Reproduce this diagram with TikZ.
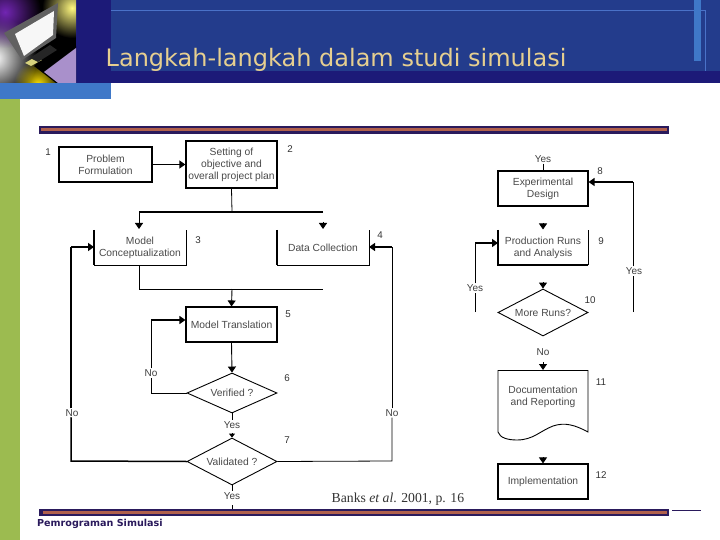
\documentclass[tikz,border=0pt]{standalone}
\usepackage{fontspec}
\setmainfont{Liberation Sans}
\newfontfamily\titlefont{DejaVu Sans}
\newfontfamily\citefont{Liberation Serif}
\usetikzlibrary{arrows.meta,shapes.geometric,fadings}
\tikzfading[name=glowfade,inner color=transparent!0,outer color=transparent!100]
\definecolor{hdblue}{HTML}{233C8C}
\definecolor{hdnavy}{HTML}{1C1A78}
\definecolor{hdlight}{HTML}{3F78C8}
\definecolor{hdline}{HTML}{4A72C8}
\definecolor{sidegreen}{HTML}{9CBB50}
\definecolor{barbrown}{HTML}{B0604C}
\definecolor{bardark}{HTML}{2A1A5C}
\definecolor{titletan}{HTML}{E6CF90}
\definecolor{txtgray}{HTML}{4A4A4A}
\tikzset{
  x=1pt,y=-1pt,
  lbl/.style={font=\fontsize{10.3}{12}\selectfont,text=txtgray,align=center,inner sep=0pt},
  num/.style={font=\fontsize{9.8}{11}\selectfont,text=black!80,inner sep=0pt},
  yn/.style={font=\fontsize{10}{11}\selectfont,text=black!75,inner sep=1pt,fill=white},
  boxed/.style={lbl,draw=black,line width=1.1pt,minimum width=#1},
  boxed/.default=91pt,
  plain/.style={lbl},
  thin line/.style={draw=black,line width=0.8pt},
  thick line/.style={draw=black,line width=1.5pt},
  head/.style={-{Triangle[length=6pt,width=8pt]},draw=black,line width=0.9pt},
  decide/.style={diamond,aspect=1.9,draw=black,line width=0.9pt,lbl,inner sep=0pt,minimum width=90pt,minimum height=#1},
  decide/.default=40pt,
}
\begin{document}
\begin{tikzpicture}
\useasboundingbox (0,0) rectangle (720,540);
\fill[white] (0,0) rectangle (720,540);
% header
\fill[hdblue] (111,0) rectangle (720,71);
\fill[hdnavy] (76,0) rectangle (111,83);
\fill[hdnavy] (76,71) rectangle (720,83);
\draw[hdline,line width=0.8pt] (111,10.5) -- (705.5,10.5) -- (705.5,71);
\fill[hdlight] (694,0) rectangle (701,61);
\fill[hdlight] (0,83) rectangle (111,99);
\fill[sidegreen] (0,99) rectangle (20,540);
% picture in header
\begin{scope}
\clip (0,0) rectangle (76,83);
\fill[black] (0,0) rectangle (76,83);
\fill[white,path fading=glowfade] (-5,58) circle (42);
\fill[violet!70!blue!85!white,path fading=glowfade] (5,12) circle (36);
\fill[yellow!50!white,path fading=glowfade] (72,8) circle (30);
\fill[yellow!85!orange,path fading=glowfade] (38,84) circle (24);
\fill[black] (34,66) -- (53,48) -- (76,46) -- (76,83) -- (56,83) -- cycle;
\fill[black!30!yellow!60!white] (25,63) -- (37,56) -- (42,60) -- (31,66) -- cycle;
\fill[black!85] (30,58) -- (50,45) -- (57,50) -- (38,62) -- cycle;
\fill[black!62] (4,33) -- (58,3) -- (56,38) -- (22,60) -- cycle;
\fill[black!3] (15,34) -- (54,11) -- (53,35) -- (24,56) -- cycle;
\fill[hdlight!45!violet!55!white] (44,72) -- (76,48) -- (76,83) -- (58,83) -- cycle;
\end{scope}
\node[anchor=base west,inner sep=0pt,text=titletan,font=\titlefont\fontsize{24}{27}\selectfont] (title) at (105.5,66.5) {Langkah-langkah dalam studi simulasi};
% bars
\fill[bardark] (39,126) rectangle (669,134);
\fill[barbrown] (41,128.5) rectangle (667,131.5);
\fill[bardark] (39,509) rectangle (669,516);
\fill[barbrown] (43,510.7) rectangle (667,514.3);
\fill[bardark] (672,510) rectangle (701,511);
\node[anchor=base west,inner sep=0pt,text=bardark,font=\titlefont\bfseries\fontsize{9.6}{11}\selectfont] (foot) at (37,526) {Pemrograman Simulasi};
% left chart nodes
\node[boxed=93pt,minimum height=35pt] (n1) at (105.5,164.5) {Problem\\Formulation};
\node[boxed,minimum height=47pt,line width=1.3pt] (n2) at (231.5,164.5) {Setting of\\objective and\\overall project plan};
\node[plain] (n3) at (140,248) {Model\\Conceptualization};
\node[plain] (n4) at (323,248) {Data Collection};
\node[boxed,minimum height=35pt] (n5) at (231.5,324.5) {Model Translation};
\node[decide] (n6) at (232,393) {Verified ?};
\node[decide=47pt] (n7) at (232,461.5) {Validated ?};
\coordinate (b3nw) at (94,230); \coordinate (b3sw) at (94,265); \coordinate (b3se) at (186,265); \coordinate (b3ne) at (186,230);
\coordinate (b4nw) at (277,230); \coordinate (b4sw) at (277,265); \coordinate (b4se) at (369,265); \coordinate (b4ne) at (369,230);
\draw[thick line] (b3nw) -- (b3sw);
\draw[thin line] (b3sw) -- (b3se) -- (b3ne);
\draw[thick line] (b4nw) -- (b4sw);
\draw[thin line] (b4sw) -- (b4se) -- (b4ne);
\coordinate (split) at (232,212);
\coordinate (splitL) at (139,212);
\coordinate (splitR) at (323,212);
\coordinate (mergeL) at (139,289);
\coordinate (merge) at (232,289);
\coordinate (mergeR) at (323,289);
\draw[thick line,line width=1.3pt,-{Triangle[length=6pt,width=8pt]}] (n1.east) -- (n2.west);
\draw[thin line] (n2.south) -- (split);
\draw[thick line,line width=1.3pt] (splitR) -- (splitL);
\draw[head] (splitL) -- (139,229);
\coordinate (h4) at (323,222);
\draw[head] (h4) -- (323,229);
\draw[thin line] (139,265) -- (mergeL) -- (mergeR);
\draw[head] (merge) -- (n5.north);
% no loops
\coordinate (v1) at (151,393);
\coordinate (v2) at (151,320);
\node[yn] (no6) at (151,373) {No};
\draw[thin line] (n6.west) -- (v1) -- (no6.south);
\draw[thin line] (no6.north) -- (v2);
\draw[line width=1.3pt,-{Triangle[length=6pt,width=8pt]}] (v2) -- (n5.west |- v2);
\draw[head] (n5.south) -- (n6.north);
\coordinate (a1) at (71,461);
\coordinate (a2) at (71,247);
\node[yn] (no7a) at (72,413) {No};
\draw[thick line,line cap=round] (n7.west) -- (a1) -- (no7a.south -| a1);
\draw[thick line] (no7a.north -| a1) -- (a2);
\draw[thick line,-{Triangle[length=6pt,width=8pt]}] (a2) -- (b3nw |- a2);
\coordinate (c1) at (392,461);
\coordinate (c2) at (392,247);
\node[yn] (no7b) at (392,413) {No};
\draw[thin line] (n7.east) -- (c1) -- (no7b.south);
\draw[thin line] (no7b.north) -- (c2);
\draw[thick line,line width=1.1pt,-{Triangle[length=6pt,width=8pt]}] (c2) -- (b4se |- c2);
\node[yn] (y6) at (232,425) {Yes};
\draw[thin line] (n6.south) -- (y6.north);
\coordinate (h7) at (232,433);
\draw[-{Triangle[length=4pt,width=6pt]},line width=0.9pt] (h7) -- (n7.north);
\node[yn] (y7) at (232,496) {Yes};
\draw[thin line] (n7.south) -- (y7.north);
\coordinate (t7) at (232,505);
\draw[thin line] (t7) -- (232,509);
\node[anchor=base west,inner sep=0pt,font=\citefont\fontsize{13.7}{16}\selectfont,text=black!80] (cite) at (331.5,502) {Banks \textit{et al}. 2001, p. 16};
% right chart
\node[yn] (y8) at (543,159) {Yes};
\node[boxed=90pt,minimum height=35pt] (n8) at (543,188.5) {Experimental\\Design};
\draw[thin line] (y8.south) -- (n8.north);
\node[plain] (n9) at (543,248) {Production Runs\\and Analysis};
\coordinate (b9nw) at (498,230); \coordinate (b9sw) at (498,265); \coordinate (b9se) at (588,265); \coordinate (b9ne) at (588,230);
\draw[thick line] (b9nw) -- (b9sw) -- (b9se);
\draw[thin line] (b9se) -- (b9ne);
\coordinate (h9) at (543,223);
\draw[head] (h9) -- (543,229.5);
\node[decide=47pt] (n10) at (543,312.5) {More Runs?};
\coordinate (h10) at (543,282);
\draw[head] (h10) -- (n10.north);
\coordinate (l1) at (475,312);
\coordinate (l2) at (475,243);
\node[yn] (y10a) at (475,288) {Yes};
\draw[thin line] (l1) -- (y10a.south);
\draw[thin line] (y10a.north) -- (l2);
\draw[thick line,-{Triangle[length=6pt,width=8pt]}] (l2) -- (b9sw |- l2);
\coordinate (r1) at (633,312);
\coordinate (r2) at (633,182);
\node[yn] (y10b) at (634,271) {Yes};
\draw[thin line] (r1) -- (y10b.south -| r1);
\draw[thin line] (y10b.north -| r1) -- (r2);
\draw[line width=1.2pt,-{Triangle[length=6pt,width=8pt]}] (r2) -- (n8.east |- r2);
\node[yn] (no10) at (543,352) {No};
\node[plain] (n11) at (543,397) {Documentation\\and Reporting};
\coordinate (h11) at (543,362);
\draw[head] (h11) -- (543,370);
\draw[line width=0.9pt] (498,432) -- (498,370.5) -- (588,370.5) -- (588,432)
  .. controls (575,425) and (565,422) .. (553,426) .. controls (540,431) and (533,440) .. (517,440)
  .. controls (508,440) and (500,438) .. (498,432);
\node[boxed=90pt,minimum height=35pt] (n12) at (543,481.5) {Implementation};
\coordinate (h12) at (543,457);
\draw[head] (h12) -- (n12.north);
% numbers
\node[num] (k1) at (48,152) {1};
\node[num] (k2) at (290,149) {2};
\node[num] (k3) at (198,240) {3};
\node[num] (k4) at (380,235) {4};
\node[num] (k5) at (288,314) {5};
\node[num] (k6) at (287,378) {6};
\node[num] (k7) at (287,440) {7};
\node[num] (k8) at (600,171) {8};
\node[num] (k9) at (601,241) {9};
\node[num] (k10) at (590,300) {10};
\node[num] (k11) at (601,382) {11};
\node[num] (k12) at (601,475) {12};
\end{tikzpicture}
\end{document}
